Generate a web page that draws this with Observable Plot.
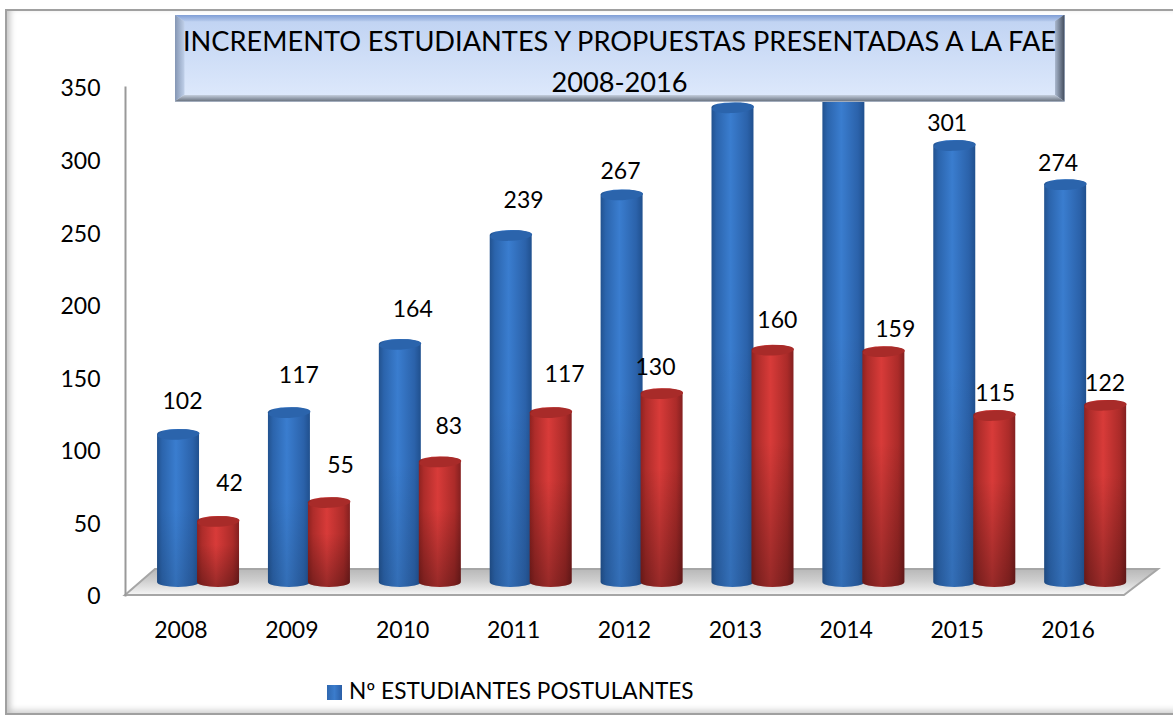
<!DOCTYPE html>
<html lang="es">
<head>
<meta charset="utf-8">
<script src="https://cdn.jsdelivr.net/npm/d3@7"></script>
<script src="https://cdn.jsdelivr.net/npm/@observablehq/plot@0.6"></script>
<style>
  html, body { margin: 0; padding: 0; background: #fff; }
  #wrap { position: relative; width: 1173px; height: 717px; overflow: hidden; font-family: Lato, sans-serif; color: #000; }
  #wrap svg { position: absolute; left: 0; top: 0; background: transparent; }
  #frame { position: absolute; left: 5px; top: 9px; width: 1200px; height: 706px; box-sizing: border-box;
           border-left: 2px solid #a0a0a0; border-top: 2px solid #a0a0a0; border-bottom: 2px solid #a0a0a0;
           box-shadow: inset 6px 0 6px -3px #c4c4c4, inset 0 -6px 6px -3px #d4d4d4; }
  #title { position: absolute; left: 174.5px; top: 14.5px; width: 890px; height: 87px; box-sizing: border-box;
           background: linear-gradient(#bfd2f2, #dfeafc); }
  #title .bevel { position: absolute; inset: 0; background-repeat: no-repeat; }
  #title .t { background-image: linear-gradient(to bottom, #7f9ed6, #bed0ef); background-size: 100% 7px;
              clip-path: polygon(0 0, 100% 0, calc(100% - 10px) 7px, 10px 7px); }
  #title .l { background-image: linear-gradient(to right, #8496b4, #c3d3ec); background-size: 10px 100%;
              clip-path: polygon(0 0, 10px 7px, 10px calc(100% - 7px), 0 100%); }
  #title .r { background-image: linear-gradient(to left, #3d4757, #aab8ce); background-size: 10px 100%; background-position: right;
              clip-path: polygon(100% 0, calc(100% - 10px) 7px, calc(100% - 10px) calc(100% - 7px), 100% 100%); }
  #title .b { background-image: linear-gradient(to top, #5f6875, #c4cedd); background-size: 100% 7px; background-position: bottom;
              clip-path: polygon(0 100%, 10px calc(100% - 7px), calc(100% - 10px) calc(100% - 7px), 100% 100%); }
  #title .text { position: absolute; left: 0; right: 0; top: 5px; text-align: center; font-size: 27.2px; line-height: 41px; white-space: nowrap; }
  #title .text span { display: block; }
  #legend { position: absolute; left: 327px; top: 680px; font-size: 22.6px; line-height: 22px; white-space: nowrap; }
  #legend i { display: inline-block; width: 15px; height: 15px; margin-right: 7px; vertical-align: -1px;
              background: linear-gradient(90deg, #2f68b0, #3b7ccc, #2a5ea6); }
</style>
</head>
<body>
<div id="wrap">
  <div id="frame"></div>
  <div id="plot"></div>
  <div id="title">
    <div class="bevel t"></div><div class="bevel l"></div><div class="bevel r"></div><div class="bevel b"></div>
    <div class="text"><span>INCREMENTO ESTUDIANTES Y PROPUESTAS PRESENTADAS A LA FAE</span><span>2008-2016</span></div>
  </div>
  <div id="legend"><i></i>Nº ESTUDIANTES POSTULANTES</div>
</div>
<script>
const years = ["2008","2009","2010","2011","2012","2013","2014","2015","2016"];
const estudiantes = [102,117,164,239,267,327,345,301,274];
const propuestas = [42,55,83,117,130,160,159,115,122];
const estudiantesLabels = ["102","117","164","239","267",null,null,"301","274"];
const propuestasLabels = ["42","55","83","117","130","160","159","115","122"];
const yTicks = [0,50,100,150,200,250,300,350];

// Manual label placement, as in the source chart (pixels from the value's position)
const blueNudgeX = [1.6,7,10,10,-4,0,0,-10,-10];
const blueNudgeY = [-46,-50,-48,-48,-36,0,0,-35,-34];
const redNudgeX = [48.6,48.7,46,51,31,42,49,38,37];
const redNudgeY = [-51,-50,-48,-51,-39,-43,-35,-35,-35];

const blueRows = years.map((year,i)=>({year, value:estudiantes[i], label:estudiantesLabels[i], dx:blueNudgeX[i], dy:blueNudgeY[i]}));
const redRows = years.map((year,i)=>({year, value:propuestas[i], label:propuestasLabels[i], dx:redNudgeX[i], dy:redNudgeY[i]}));

const NS = "http://www.w3.org/2000/svg";
function gradient(id, horizontal, stops){
  const g = document.createElementNS(NS,"linearGradient");
  g.setAttribute("id",id);
  g.setAttribute("x1","0"); g.setAttribute("y1","0");
  g.setAttribute("x2",horizontal?"1":"0"); g.setAttribute("y2",horizontal?"0":"1");
  for (const [o,c,a] of stops){
    const s = document.createElementNS(NS,"stop");
    s.setAttribute("offset",o); s.setAttribute("stop-color",c);
    if (a!==undefined) s.setAttribute("stop-opacity",a);
    g.appendChild(s);
  }
  return g;
}
function defsMark(){
  const d = document.createElementNS(NS,"defs");
  d.appendChild(gradient("blueBody",true,[[0,"#22528f"],[0.12,"#2b64ac"],[0.45,"#3a7dcf"],[0.85,"#2b62aa"],[1,"#20508e"]]));
  d.appendChild(gradient("redBody",true,[[0,"#8f2220"],[0.12,"#ad2c2a"],[0.45,"#d83b39"],[0.85,"#ab2b29"],[1,"#842020"]]));
  d.appendChild(gradient("blueShade",false,[[0,"#000",0],[0.5,"#000",0],[1,"#000",0.12]]));
  d.appendChild(gradient("redShade",false,[[0,"#000",0],[0.4,"#000",0],[1,"#000",0.3]]));
  d.appendChild(gradient("floorFill",false,[[0,"#b8b8b8"],[0.45,"#cfcfcf"],[1,"#f6f6f6"]]));
  return d;
}
// Wall-less 3D floor: spans the frame on the y=0 line, with a fixed depth offset
function floorMark(index, scales, values, dim){
  const y0 = scales.y(0), left = dim.marginLeft, right = dim.width - dim.marginRight;
  const p = document.createElementNS(NS,"polygon");
  p.setAttribute("points",`${left},${y0} ${left+30},${y0-26} ${right+35},${y0-26} ${right+1},${y0}`);
  p.setAttribute("fill","url(#floorFill)");
  p.setAttribute("stroke","#a6a6a6");
  p.setAttribute("stroke-width","2");
  return p;
}
// Tilted ellipse for a cylinder's cap
const cap = { draw(ctx){
  const a=21,b=5.2,t=-3*Math.PI/180,k=0.5523;
  const P=(x,y)=>[x*Math.cos(t)-y*Math.sin(t), x*Math.sin(t)+y*Math.cos(t)];
  const c=(p1,p2,p3)=>ctx.bezierCurveTo(...P(...p1),...P(...p2),...P(...p3));
  ctx.moveTo(...P(a,0));
  c([a,k*b],[k*a,b],[0,b]); c([-k*a,b],[-a,k*b],[-a,0]);
  c([-a,-k*b],[-k*a,-b],[0,-b]); c([k*a,-b],[a,-k*b],[a,0]);
  ctx.closePath();
}};
const INSET = 34.45, LIFT = -13;
function cylinder(rows, dx, body, shade, capColor){
  const opts = {x:"year", y:"value", insetLeft:INSET, insetRight:INSET, insetTop:-5, insetBottom:-5, rx:21, ry:5, dx, dy:LIFT};
  return [
    Plot.barY(rows,{...opts, fill:`url(#${body})`}),
    Plot.barY(rows,{...opts, fill:`url(#${shade})`}),
    Plot.dot(rows,{x:"year", y:"value", dx, dy:LIFT, symbol:cap, fill:capColor, stroke:"none"})
  ];
}
const labelMarks = rows => rows.filter(r=>r.label).map(r =>
  Plot.text([r],{x:"year", y:"value", text:"label", dx:r.dx, dy:r.dy, fontSize:23, fill:"#000", lineAnchor:"middle"}));

const chart = Plot.plot({
  width:1173, height:717,
  marginLeft:125, marginRight:50, marginTop:87, marginBottom:122,
  style:{background:"transparent", fontFamily:"Lato, sans-serif", overflow:"visible"},
  x:{type:"band", domain:years, padding:0, round:false, label:null},
  y:{domain:[0,350], label:null},
  marks:[
    defsMark,
    floorMark,
    Plot.frame({anchor:"left", stroke:"#999", strokeWidth:2}),
    ...cylinder(blueRows,-2.4,"blueBody","blueShade","#2b64ac"),
    ...cylinder(redRows,37.6,"redBody","redShade","#a82b29"),
    ...labelMarks(blueRows),
    ...labelMarks(redRows),
    Plot.axisY({ticks:yTicks, tickSize:0, tickPadding:25, fontSize:23, label:null, tickFormat:d=>String(d), fill:"#000", dy:1.5}),
    Plot.axisX({tickSize:0, tickPadding:26, fontSize:23, label:null, fill:"#000"})
  ]
});
document.getElementById("plot").appendChild(chart);
</script>
</body>
</html>
